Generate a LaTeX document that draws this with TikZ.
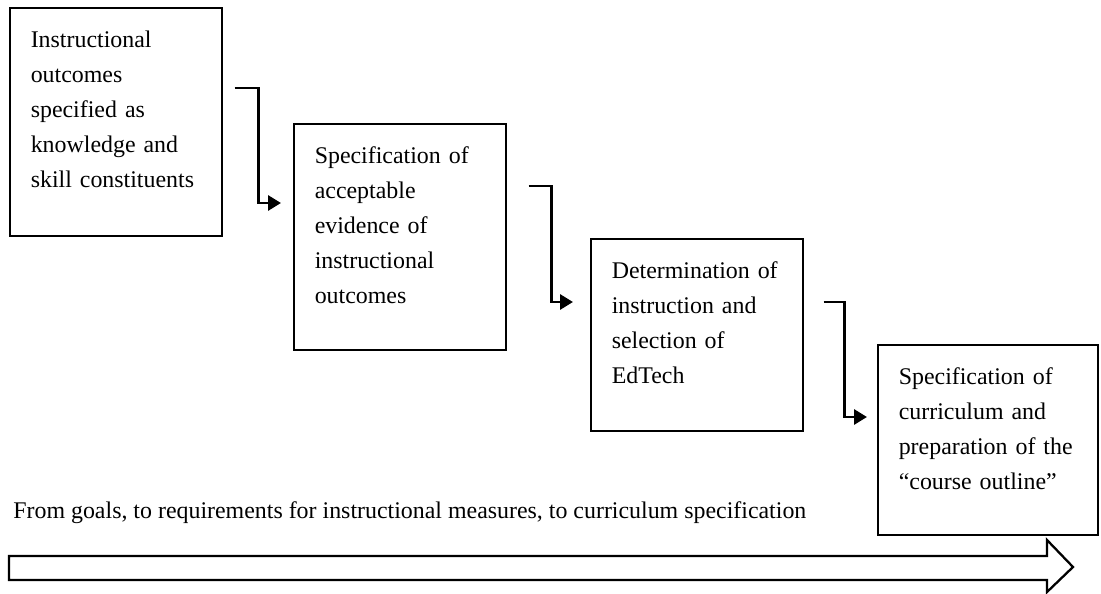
\documentclass[tikz,border=0pt]{standalone}
\usepackage{fontspec}
\setmainfont{Liberation Serif}
\usetikzlibrary{arrows.meta}

\begin{document}
\begin{tikzpicture}[x=0.02cm,y=-0.02cm,
    stage/.style={draw,line width=0.9pt,anchor=north west,align=left,
      inner xsep=0.42cm,inner ysep=0pt,text height=0.8cm,
      font=\fontsize{13.6}{19.9}\selectfont},
    flow/.style={line width=1.7pt,-{Triangle[length=0.26cm,width=0.3cm]}}]
    \useasboundingbox (0,0) rectangle (1101,594);

    \node[stage,text width=3.4cm,text depth=3.76cm] (goals) at (9,7)
      {Instructional\\outcomes\\specified as\\knowledge and\\skill constituents};
    \node[stage,text width=3.4cm,text depth=3.72cm] (evidence) at (293,123)
      {Specification of\\acceptable\\evidence of\\instructional\\outcomes};
    \node[stage,text width=3.4cm,text depth=3.04cm] (edtech) at (590,238)
      {Determination of\\instruction and\\selection of\\EdTech};
    \node[stage,text width=3.56cm,text depth=3.0cm] (outline) at (877,344)
      {Specification of\\curriculum and\\preparation of the\\``course outline''};

    \node[anchor=base west,inner sep=0pt,font=\fontsize{13.6}{19.9}\selectfont] (caption) at (13,518)
      {From goals, to requirements for instructional measures, to curriculum specification};

    \draw[flow] ([shift={(12,81)}]goals.north east) -- ++(24,0) |- ([shift={(-12,80)}]evidence.north west);
    \draw[flow] ([shift={(22,63)}]evidence.north east) -- ++(23,0) |- ([shift={(-17,64)}]edtech.north west);
    \draw[flow] ([shift={(20,64)}]edtech.north east) -- ++(21,0) |- ([shift={(-10,73)}]outline.north west);

    % direction of the whole sequence
    \draw[line width=1.3pt,line join=miter] (9,556) -- (1047,556) -- (1047,540) -- (1073,567)
      -- (1047,592) -- (1047,580) -- (9,580) -- cycle;
  \end{tikzpicture}
\end{document}
